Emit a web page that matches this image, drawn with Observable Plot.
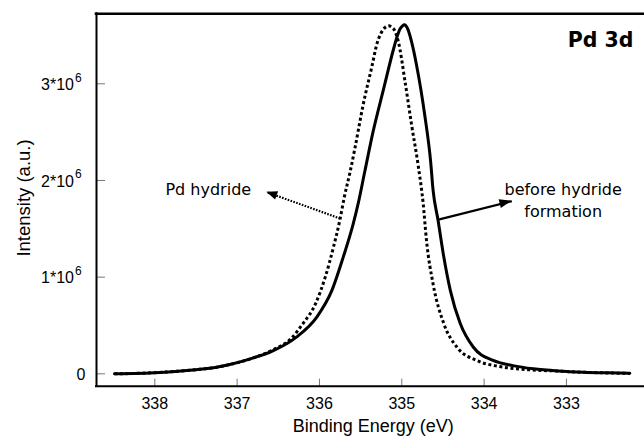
<!DOCTYPE html>
<html><head><meta charset="utf-8">
<script src="https://cdn.jsdelivr.net/npm/d3@7"></script>
<script src="https://cdn.jsdelivr.net/npm/@observablehq/plot@0.6"></script>
<style>html,body{margin:0;padding:0;background:#fff;}</style>
</head><body><div id="chart"></div>
<script>
// Binding energy (eV) and intensity (units of 10^6, a.u.)
const energyBefore = [338.49, 338.25, 338.00, 337.75, 337.50, 337.25, 337.09, 336.84, 336.56, 336.28, 336.03, 335.85, 335.71, 335.59, 335.53, 335.45, 335.35, 335.22, 335.10, 335.06, 335.02, 334.99, 334.97, 334.95, 334.92, 334.88, 334.82, 334.72, 334.65, 334.62, 334.56, 334.49, 334.41, 334.29, 334.13, 333.89, 333.65, 333.40, 333.10, 332.79, 332.50, 332.23];
const intensityBefore = [0.000, 0.004, 0.012, 0.025, 0.043, 0.068, 0.096, 0.155, 0.24, 0.38, 0.59, 0.86, 1.21, 1.55, 1.76, 2.09, 2.50, 2.95, 3.36, 3.48, 3.57, 3.60, 3.61, 3.60, 3.55, 3.43, 3.19, 2.67, 2.20, 1.90, 1.59, 1.21, 0.86, 0.52, 0.275, 0.138, 0.085, 0.052, 0.030, 0.017, 0.010, 0.005];
const energyHydride = [338.49, 338.25, 338.00, 337.75, 337.50, 337.25, 337.09, 336.84, 336.56, 336.35, 336.20, 336.05, 335.93, 335.83, 335.75, 335.70, 335.63, 335.57, 335.47, 335.36, 335.30, 335.26, 335.20, 335.16, 335.13, 335.08, 335.04, 334.96, 334.88, 334.80, 334.74, 334.70, 334.62, 334.49, 334.33, 334.09, 333.81, 333.50, 333.10, 332.79, 332.50, 332.23];
const intensityHydride = [0.000, 0.004, 0.012, 0.025, 0.043, 0.068, 0.096, 0.155, 0.25, 0.36, 0.52, 0.72, 1.00, 1.31, 1.60, 1.82, 2.08, 2.33, 2.78, 3.19, 3.42, 3.51, 3.585, 3.60, 3.59, 3.54, 3.43, 3.02, 2.57, 2.15, 1.76, 1.38, 0.93, 0.52, 0.275, 0.138, 0.075, 0.045, 0.028, 0.016, 0.009, 0.004];

const xTicks = [338, 337, 336, 335, 334, 333];
const yTicks = [0, 1, 2, 3];
const yTickBase = ["0", "1*10", "2*10", "3*10"];
const yTickExp = ["", "6", "6", "6"];
const xDomain = [338.708, 332.052];
const yDomain = [-0.128, 3.724];

const labelText = ["Pd hydride", "before hydride\nformation"];
const labelX = [337.35, 333.04];
const labelY = [2.014, 2.014];
const arrowFromX = [335.75, 334.567];
const arrowFromY = [1.607, 1.593];
const arrowToX = [336.64, 333.663];
const arrowToY = [1.879, 1.785];
const arrowDashed = [true, false];

const before = energyBefore.map((e, i) => ({energy: e, intensity: intensityBefore[i]}));
const hydride = energyHydride.map((e, i) => ({energy: e, intensity: intensityHydride[i]}));
const labels = labelText.map((t, i) => ({text: t, x: labelX[i], y: labelY[i]}));
const arrows = arrowFromX.map((x, i) => ({x1: x, y1: arrowFromY[i], x2: arrowToX[i], y2: arrowToY[i], dashed: arrowDashed[i]}));
const yt = yTicks.map((v, i) => ({v, base: yTickBase[i], exp: yTickExp[i]}));

function arrowHeads(index, scales) {
  const ns = "http://www.w3.org/2000/svg";
  const g = document.createElementNS(ns, "g");
  for (const a of arrows) {
    const x1 = scales.x(a.x1), y1 = scales.y(a.y1), x2 = scales.x(a.x2), y2 = scales.y(a.y2);
    const ang = Math.atan2(y2 - y1, x2 - x1);
    const L = a.dashed ? 11 : 12, W = 4.5;
    const bx = x2 - L * Math.cos(ang), by = y2 - L * Math.sin(ang);
    const p = document.createElementNS(ns, "polygon");
    p.setAttribute("points", `${x2},${y2} ${bx + W * Math.sin(ang)},${by - W * Math.cos(ang)} ${bx - W * Math.sin(ang)},${by + W * Math.cos(ang)}`);
    p.setAttribute("fill", "#000");
    g.appendChild(p);
  }
  return g;
}

const chart = Plot.plot({
  width: 644,
  height: 437,
  marginLeft: 96,
  marginRight: 0,
  marginTop: 13.3,
  marginBottom: 51.3,
  style: {fontFamily: "'Liberation Sans', Arial, sans-serif", background: "#fff", color: "#000"},
  x: {domain: xDomain, label: null, axis: null},
  y: {domain: yDomain, label: null, axis: null},
  marks: [
    // tick marks (inward)
    Plot.axisX(xTicks, {tickSize: -7, tickFormat: () => "", stroke: "#777", strokeWidth: 1}),
    Plot.axisY(yTicks, {tickSize: -9, tickFormat: () => "", stroke: "#777", strokeWidth: 1}),
    // tick labels
    Plot.axisX(xTicks, {tickSize: 0, tickPadding: 11, fontSize: 16, label: null}),
    Plot.text(yt, {filter: d => d.exp === "", y: "v", text: "base", frameAnchor: "left", textAnchor: "end", dx: -11, dy: 1, fontSize: 16, lineAnchor: "middle"}),
    Plot.text(yt, {filter: d => d.exp !== "", y: "v", text: "base", frameAnchor: "left", textAnchor: "end", dx: -22.5, dy: 1, fontSize: 16, lineAnchor: "middle"}),
    Plot.text(yt, {filter: d => d.exp !== "", y: "v", text: "exp", frameAnchor: "left", textAnchor: "start", dx: -21.5, dy: -6, fontSize: 12, lineAnchor: "middle"}),
    // axis titles
    Plot.text(["Binding Energy (eV)"], {frameAnchor: "bottom", textAnchor: "middle", dx: 2.7, dy: 40.5, lineAnchor: "middle", fontSize: 18}),
    Plot.text(["Intensity (a.u.)"], {frameAnchor: "left", textAnchor: "middle", rotate: -90, dx: -72.5, dy: -2, lineAnchor: "middle", fontSize: 18.5}),
    // frame lines
    Plot.ruleY([yDomain[1]], {strokeWidth: 2.6, stroke: "#000", strokeLinecap: "square"}),
    Plot.ruleY([yDomain[0]], {strokeWidth: 2, stroke: "#000", strokeLinecap: "square"}),
    Plot.ruleX([xDomain[0]], {strokeWidth: 2, stroke: "#000", strokeLinecap: "square"}),
    // spectra
    Plot.line(hydride, {x: "energy", y: "intensity", stroke: "#000", strokeWidth: 3, strokeDasharray: "3,2.6", strokeLinecap: "butt", strokeLinejoin: "miter", curve: "monotone-x"}),
    Plot.line(before, {x: "energy", y: "intensity", stroke: "#000", strokeWidth: 3, curve: "monotone-x"}),
    // annotations
    Plot.link(arrows.filter(d => d.dashed), {x1: "x1", y1: "y1", x2: "x2", y2: "y2", stroke: "#000", strokeWidth: 2.2, strokeDasharray: "1.6,1.4", strokeLinecap: "butt"}),
    Plot.link(arrows.filter(d => !d.dashed), {x1: "x1", y1: "y1", x2: "x2", y2: "y2", stroke: "#000", strokeWidth: 2.2}),
    arrowHeads,
    Plot.text(labels, {x: "x", y: "y", text: "text", lineAnchor: "top", lineHeight: 1.375, fontSize: 16, fontFamily: "'DejaVu Sans', sans-serif"}),
    Plot.text(["Pd 3d"], {frameAnchor: "top-right", textAnchor: "end", lineAnchor: "bottom", dx: -11, dy: 32.7, fontSize: 20.5, fontWeight: "bold", fontFamily: "'DejaVu Sans', sans-serif"})
  ]
});
document.getElementById("chart").appendChild(chart);
</script>
</body></html>
